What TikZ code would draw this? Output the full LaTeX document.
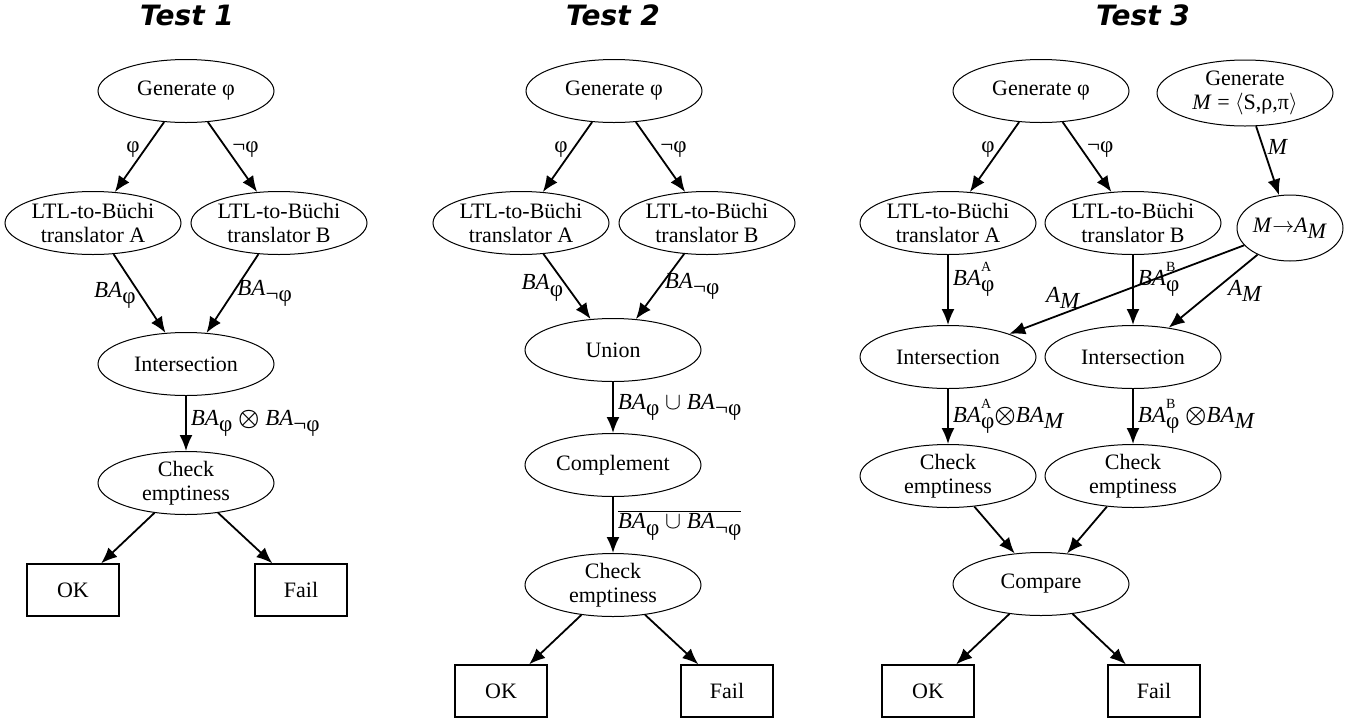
\documentclass[tikz,border=0pt]{standalone}
\usepackage{fontspec}
\setmainfont{Liberation Serif}
\newfontfamily\titlefont{DejaVu Sans}
\usetikzlibrary{arrows.meta,shapes.geometric}
\newcommand{\BA}[1]{\textit{BA}\raisebox{-0.6ex}{#1}}
\newcommand{\BAx}[2]{\textit{BA}\rlap{\raisebox{1.3ex}{\scriptsize #1}}\raisebox{-0.6ex}{#2}}
\newcommand{\AM}{\textit{A}\raisebox{-0.6ex}{\textit{M}}}
\newcommand{\otim}{{\boldmath$\otimes$}}
\tikzset{
	proc/.style={draw, ellipse, line width=0.5pt, inner sep=0pt, minimum width=88pt, minimum height=31.5pt, align=center, font=\fontsize{11}{12}\selectfont},
	res/.style={draw, rectangle, line width=0.7pt, minimum width=46pt, minimum height=26pt, font=\fontsize{11}{12}\selectfont},
	flow/.style={-{Latex[length=8pt,width=6.5pt]}, line width=0.9pt},
	lbl/.style={font=\fontsize{11.5}{12}\selectfont, inner sep=2pt},
	ttl/.style={font=\titlefont\bfseries\itshape\fontsize{14}{16}\selectfont}
}

\begin{document}
\begin{tikzpicture}[x=0.5pt, y=-0.5pt]
			%%%%% START %%%%%
			\useasboundingbox (0,0) rectangle (1356,724);
			
			%% Test 1
			\node[ttl] (t1) at (187,15) {Test 1};
			\node[proc] (g1) at (186,91) {Generate φ};
			\node[proc] (a1) at (93,223) {LTL-to-Büchi\\translator A};
			\node[proc] (b1) at (279,223) {LTL-to-Büchi\\translator B};
			\node[proc] (i1) at (186,364) {Intersection};
			\node[proc] (c1) at (186,483) {Check\\emptiness};
			\node[res] (ok1) at (73,590) {OK};
			\node[res] (f1) at (301,590) {Fail};
			
			\draw[flow] (g1) -- node[lbl, pos=0.4, left] {φ} (a1);
			\draw[flow] (g1) -- node[lbl, pos=0.4, right] {¬φ} (b1);
			\draw[flow] (a1) -- node[lbl, pos=0.52, left] {\BA{φ}} (i1);
			\draw[flow] (b1) -- node[lbl, pos=0.5, right] {\BA{¬φ}} (i1);
			\draw[flow] (i1) -- node[lbl, right] {\BA{φ} \otim{} \BA{¬φ}} (c1);
			\draw[flow] (c1) -- (ok1);
			\draw[flow] (c1) -- (f1);
			
			%% Test 2
			\node[ttl] (t2) at (613,15) {Test 2};
			\node[proc] (g2) at (614,91) {Generate φ};
			\node[proc] (a2) at (521,223) {LTL-to-Büchi\\translator A};
			\node[proc] (b2) at (707,223) {LTL-to-Büchi\\translator B};
			\node[proc] (u2) at (613,350) {Union};
			\node[proc] (m2) at (613,465) {Complement};
			\node[proc] (c2) at (613,585) {Check\\emptiness};
			\node[res] (ok2) at (501,691) {OK};
			\node[res] (f2) at (727,691) {Fail};
			
			\draw[flow] (g2) -- node[lbl, pos=0.4, left] {φ} (a2);
			\draw[flow] (g2) -- node[lbl, pos=0.4, right] {¬φ} (b2);
			\draw[flow] (a2) -- node[lbl, pos=0.52, left] {\BA{φ}} (u2);
			\draw[flow] (b2) -- node[lbl, pos=0.5, right] {\BA{¬φ}} (u2);
			\draw[flow] (u2) -- node[lbl, right] {\BA{φ} $\cup$ \BA{¬φ}} (m2);
			\draw[flow] (m2) -- node[lbl, right] {$\overline{\mbox{\BA{φ} $\cup$ \BA{¬φ}}}$} (c2);
			\draw[flow] (c2) -- (ok2);
			\draw[flow] (c2) -- (f2);
			
			%% Test 3
			\node[ttl] (t3) at (1143,15) {Test 3};
			\node[proc] (g3) at (1041,91) {Generate φ};
			\node[proc, minimum height=33pt] (gm3) at (1245,93) {Generate\\\textit{M} = $\langle$S,ρ,π$\rangle$};
			\node[proc] (a3) at (948,223) {LTL-to-Büchi\\translator A};
			\node[proc] (b3) at (1133,223) {LTL-to-Büchi\\translator B};
			\node[proc, minimum width=53pt, minimum height=33pt] (am3) at (1290,228) {\textit{M}$\rightarrow$\AM};
			\node[proc] (i3a) at (948,357) {Intersection};
			\node[proc] (i3b) at (1133,357) {Intersection};
			\node[proc] (c3a) at (948,476) {Check\\emptiness};
			\node[proc] (c3b) at (1133,476) {Check\\emptiness};
			\node[proc] (cp3) at (1041,584) {Compare};
			\node[res] (ok3) at (928,691) {OK};
			\node[res] (f3) at (1154,691) {Fail};
			
			\draw[flow] (g3) -- node[lbl, pos=0.4, left] {φ} (a3);
			\draw[flow] (g3) -- node[lbl, pos=0.4, right] {¬φ} (b3);
			\draw[flow] (gm3) -- node[lbl, pos=0.3, right] {\textit{M}} (am3);
			\draw[flow] (a3) -- node[lbl, pos=0.35, right] {\BAx{A}{φ}} (i3a);
			\draw[flow] (b3) -- node[lbl, pos=0.35, right] {\BAx{B}{φ}} (i3b);
			\draw[flow] (am3) -- node[lbl, pos=0.77, above] {\AM} (i3a);
			\draw[flow] (am3) -- node[lbl, pos=0.5, right=5pt] {\AM} (i3b);
			\draw[flow] (i3a) -- node[lbl, right] {\BAx{A}{φ}\otim\BA{\textit{M}}} (c3a);
			\draw[flow] (i3b) -- node[lbl, right] {\BAx{B}{φ} \otim\BA{\textit{M}}} (c3b);
			\draw[flow] (c3a) -- (cp3);
			\draw[flow] (c3b) -- (cp3);
			\draw[flow] (cp3) -- (ok3);
			\draw[flow] (cp3) -- (f3);
			%%%%% END %%%%%
\end{tikzpicture}
\end{document}
